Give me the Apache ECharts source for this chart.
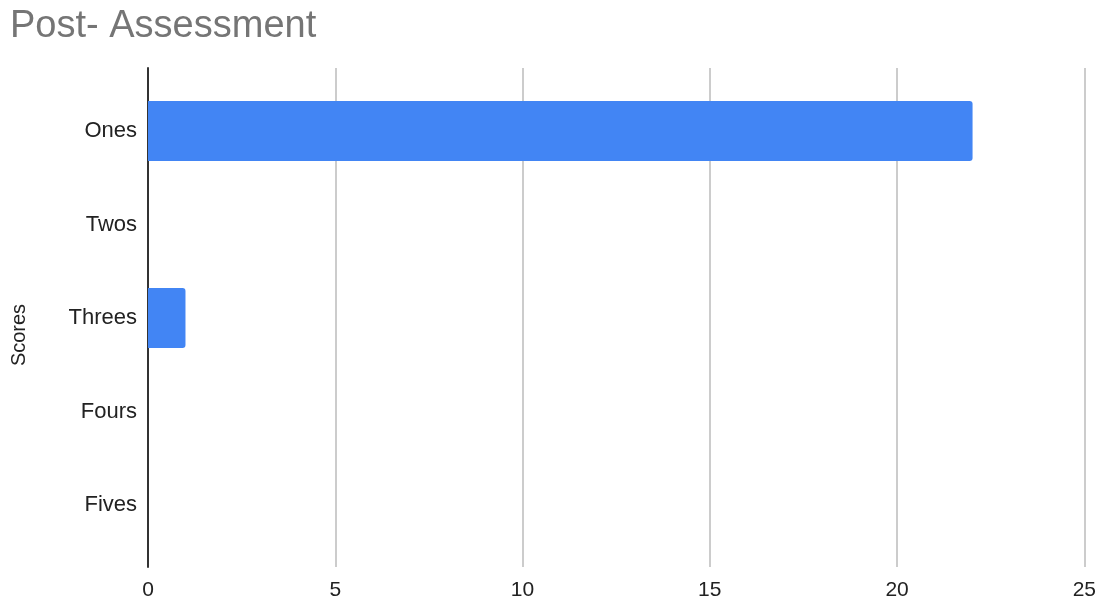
<!DOCTYPE html>
<html>
<head>
<meta charset="utf-8">
<script src="https://cdn.jsdelivr.net/npm/echarts@6/dist/echarts.min.js"></script>
<style>
  html, body { margin: 0; padding: 0; background: #fff; }
  #chart { width: 1099px; height: 601px; }
</style>
</head>
<body>
<div id="chart"></div>
<script>
// chart data
const categories = ['Ones', 'Twos', 'Threes', 'Fours', 'Fives'];
const counts = [22, 0, 1, 0, 0];
const xTicks = [0, 5, 10, 15, 20, 25];

const font = "'Liberation Sans', Arial, sans-serif";
const chart = echarts.init(document.getElementById('chart'));

const option = {
  animation: false,
  title: {
    text: 'Post- Assessment',
    left: 5,
    top: 3,
    textStyle: { color: '#757575', fontFamily: font, fontSize: 38, fontWeight: 'normal' }
  },
  graphic: [{
    type: 'text',
    x: 19,
    y: 335,
    rotation: Math.PI / 2,
    style: {
      text: 'Scores',
      fill: '#222',
      font: '20px ' + font,
      align: 'center',
      verticalAlign: 'middle'
    }
  }],
  grid: [
    // frame grid: gridlines + axis line
    { left: 148, right: 14, top: 68, height: 500 },
    // bars grid
    { left: 148, right: 14, top: 84.25, height: 467.5 }
  ],
  xAxis: [
    {
      gridIndex: 0,
      type: 'value',
      min: xTicks[0],
      max: xTicks[xTicks.length - 1],
      interval: 5,
      axisLine: { show: false },
      axisTick: { show: false },
      axisLabel: { color: '#222', fontFamily: font, fontSize: 21, margin: 13 },
      splitLine: { lineStyle: { color: '#cccccc', width: 2 } }
    },
    {
      gridIndex: 1,
      type: 'value',
      min: 0,
      max: 25,
      show: false
    }
  ],
  yAxis: [
    {
      gridIndex: 0,
      type: 'value',
      min: 0,
      max: 1,
      axisLine: { show: true, lineStyle: { color: '#333', width: 2 } },
      axisTick: { show: false },
      axisLabel: { show: false },
      splitLine: { show: false }
    },
    {
      gridIndex: 1,
      type: 'category',
      inverse: true,
      data: categories,
      axisLine: { show: false },
      axisTick: { show: false },
      axisLabel: { color: '#222', fontFamily: font, fontSize: 22, margin: 11 }
    }
  ],
  series: [{
    type: 'bar',
    xAxisIndex: 1,
    yAxisIndex: 1,
    data: counts,
    barWidth: 60,
    itemStyle: { color: '#4285f4', borderRadius: [0, 3, 3, 0] }
  }]
};

chart.setOption(option);
</script>
</body>
</html>
